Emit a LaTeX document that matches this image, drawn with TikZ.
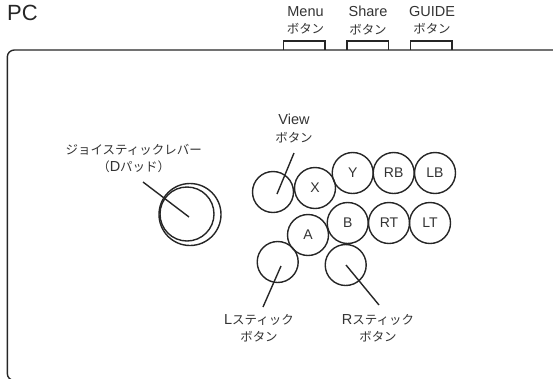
\documentclass[tikz,border=0pt]{standalone}
\usepackage{fontspec}
\setmainfont{Liberation Sans}
\newfontfamily\cjk{Noto Sans CJK JP}[Scale=0.86]
\tikzset{
 px/.style={x=1pt,y=-1pt},
 ln/.style={line width=1.4pt,draw=black!85},
 btn/.style={circle,ln,minimum size=41pt,inner sep=0pt,font=\fontsize{14}{14}\selectfont,text=black!80},
 lab/.style={align=center,font=\fontsize{14.5}{17.2}\selectfont,text=black!80,inner sep=0pt},
 topb/.style={ln}
}
\begin{document}
\begin{tikzpicture}[px]
\useasboundingbox (0,0) rectangle (553,378);
\node[anchor=west,inner sep=0pt,font=\fontsize{22}{22}\selectfont,text=black!85] (pc) at (7,12.5) {PC};
% top buttons
\draw[topb] (283.5,50) |- (325,41) -- (325,50);
\draw[topb] (347,50) |- (388.7,41) -- (388.7,50);
\draw[topb] (410.7,50) |- (452,41) -- (452,50);
% body
\begin{scope}
\clip (0,0) rectangle (553,378);
\draw[ln,rounded corners=7pt] (555,50) -- (7.3,50) -- (7.3,380.5) -- (555,380.5);
\end{scope}
\node[lab] (menu) at (305.5,20.5) {Menu\\{\cjk ボタン}};
\node[lab] (share) at (368,20.5) {Share\\{\cjk ボタン}};
\node[lab] (guide) at (432,20.5) {GUIDE\\{\cjk ボタン}};
\node[lab] (view) at (294,128.5) {View\\{\cjk ボタン}};
\node[lab] (joy) at (133.7,158.5) {{\cjk ジョイスティックレバー}\\{\cjk （}D{\cjk パッド）}};
\node[lab] (ls) at (259,328.5) {L{\cjk スティック}\\{\cjk ボタン}};
\node[lab] (rs) at (378,328.5) {R{\cjk スティック}\\{\cjk ボタン}};
% joystick
\node[circle,ln,minimum size=62pt,inner sep=0pt] (j1) at (190,214.5) {};
\node[circle,ln,minimum size=54pt,inner sep=0pt] (j2) at (187,214) {};
\node[btn] (vb) at (273,192) {};
\node[btn] (x) at (315,188) {X};
\node[btn] (y) at (352.7,173) {Y};
\node[btn] (rb) at (393.7,173) {RB};
\node[btn] (lb) at (435,173) {LB};
\node[btn] (a) at (308,235) {A};
\node[btn] (b) at (347.7,223) {B};
\node[btn] (rt) at (389,223) {RT};
\node[btn] (lt) at (430,223) {LT};
\node[btn] (l) at (277.7,262) {};
\node[btn] (r) at (345.7,265) {};
\coordinate (jc) at (189,217);
\coordinate (je) at (143,182);
\coordinate (vs) at (294,153);
\coordinate (ve) at (277,194);
\coordinate (ls1) at (263,307);
\coordinate (ls2) at (281,266);
\coordinate (rs1) at (379,305);
\coordinate (rs2) at (346,265);
\draw[ln] (je) -- (jc);
\draw[ln] (vs) -- (ve);
\draw[ln] (ls1) -- (ls2);
\draw[ln] (rs1) -- (rs2);
\end{tikzpicture}
\end{document}
